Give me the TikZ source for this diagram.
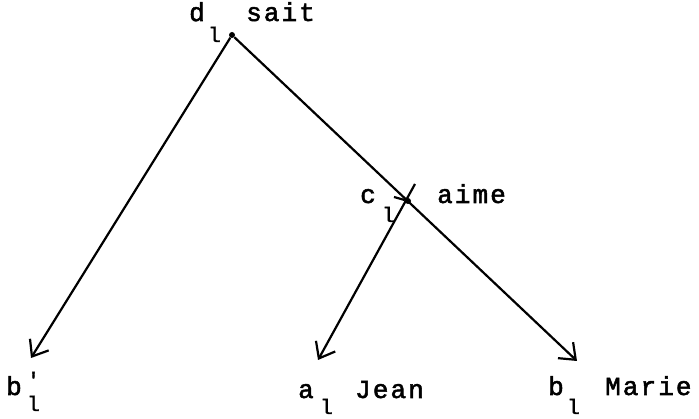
\documentclass[tikz,border=0pt]{standalone}
\usepackage{fontspec}
\setmonofont{Liberation Mono}[LetterSpace=8,FakeBold=2]
\usetikzlibrary{arrows.meta,positioning}
\tikzstyle{word} = [inner sep=0pt, anchor=base west, font=\ttfamily\fontsize{26}{26}\selectfont]
\tikzstyle{sub} = [inner sep=0pt, anchor=base west, font=\ttfamily\fontsize{21}{21}\selectfont]
\tikzstyle{dot} = [circle, fill=black, inner sep=0pt, minimum size=6pt]
\tikzstyle{arrow} = [line width=2.2pt, -{Straight Barb[length=14pt,width=22pt,line width=2.2pt]}]
\tikzstyle{line} = [line width=2.2pt]

\begin{document}
\begin{tikzpicture}[x=1pt, y=-1pt]
    \useasboundingbox (0,0) rectangle (699,419);
    % Points
    \node (d1) [dot] at (232,35) {};
    \node (c1) [dot] at (408,201) {};
    \coordinate (ctop) at (415,184);
    \coordinate (ctick) at (394,197);
    \coordinate (bptip) at (31,358);
    \coordinate (atip) at (318,360);
    \coordinate (btip) at (577,361);

    % Labels
    \node (dlet) [word] at (189,21) {d};
    \node (dsub) [sub] at (208,42) {l};
    \node (sait) [word] at (246,21) {sait};

    \node (clet) [word] at (360,203) {c};
    \node (csub) [sub] at (382,222) {l};
    \node (aime) [word] at (437,203) {aime};

    \node (bplet) [word] at (6,395) {b};
    \node (bpprime) [sub] at (27,387) {'};
    \node (bpsub) [sub] at (27,411) {l};

    \node (alet) [word] at (298,398) {a};
    \node (asub) [sub] at (320,414) {l};
    \node (jean) [word] at (355,398) {Jean};

    \node (blet) [word] at (548,395) {b};
    \node (bsub) [sub] at (567,414) {l};
    \node (marie) [word] at (605,395) {Marie};

    % Arrows
    \draw [arrow] (d1) -- (bptip);
    \draw [arrow] (d1) -- (btip);
    \draw [arrow] (ctop) -- (atip);
    \draw [line] (ctick) -- (c1);
\end{tikzpicture}
\end{document}
